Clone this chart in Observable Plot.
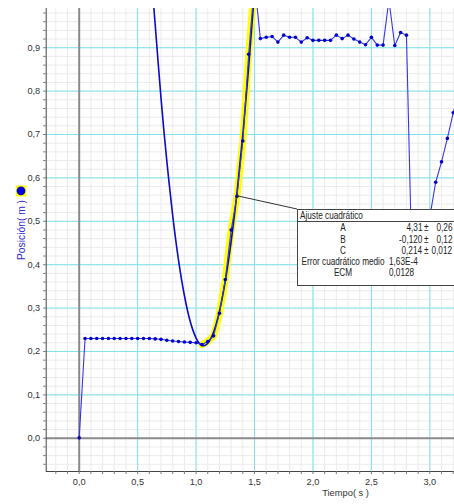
<!DOCTYPE html>
<html><head><meta charset="utf-8">
<script src="https://cdn.jsdelivr.net/npm/d3@7"></script>
<script src="https://cdn.jsdelivr.net/npm/@observablehq/plot@0.6"></script>
<style>
html,body{margin:0;padding:0;background:#fff;overflow:hidden;width:454px;height:504px}
#wrap{position:relative;width:454px;height:504px;overflow:hidden}
#wrap svg{display:block}
#box{position:absolute;left:297px;top:209px;width:164px;height:77px;border:1px solid #444;background:#fff;box-sizing:border-box;font-family:'Liberation Sans',Arial,sans-serif;font-size:10px;color:#222;line-height:11.3px}
#box .hd{position:relative;height:12.3px;border-bottom:1px solid #444;line-height:12.5px;box-sizing:border-box}
#box .hd span{position:absolute;left:2px;top:0;transform:scaleX(.82);transform-origin:left center;white-space:nowrap}
#box .row{position:relative;height:11.3px}
#box .row span{position:absolute;top:0;white-space:nowrap}
#box .lab{left:-20.5px;width:130px;text-align:center;transform:scaleX(.82);transform-origin:center}
#box .val{right:38px;text-align:right;transform:scaleX(.82);transform-origin:right center}
#box .pm{left:125.5px;transform:scaleX(.82);transform-origin:left center}
#box .err{right:8px;text-align:right;transform:scaleX(.82);transform-origin:right center}
#box .stat{left:90.5px;transform:scaleX(.82);transform-origin:left center}
</style></head><body><div id="wrap"></div>
<script>
// ---- data ----
const time = [0.00,0.05,0.10,0.15,0.20,0.25,0.30,0.35,0.40,0.45,0.50,0.55,0.60,0.65,0.70,0.75,0.80,0.85,0.90,0.95,
  1.00,1.05,1.10,1.15,1.20,1.25,1.30,1.35,1.40,1.45,1.50,1.55,1.60,1.65,1.70,1.75,1.80,1.85,1.90,1.95,
  2.00,2.05,2.10,2.15,2.20,2.25,2.30,2.35,2.40,2.45,2.50,2.55,2.60,2.65,2.70,2.75,2.80,2.85,2.90,2.95,
  3.00,3.05,3.10,3.15,3.20,3.25];
const position = [0.001,0.230,0.230,0.230,0.230,0.230,0.230,0.230,0.230,0.230,0.230,0.230,0.230,0.229,0.228,0.226,0.224,0.223,0.222,0.221,
  0.220,0.216,0.223,0.236,0.288,0.366,0.480,0.558,0.685,0.885,1.050,0.921,0.924,0.926,0.913,0.929,0.924,0.924,0.913,0.923,
  0.917,0.917,0.917,0.917,0.929,0.921,0.929,0.920,0.913,0.907,0.924,0.906,0.906,1.010,0.905,0.935,0.929,0.360,0.400,0.450,
  0.510,0.590,0.637,0.691,0.750,0.800];
// quadratic fit curve, as drawn
const fitTime = [0.62,0.64,0.70,0.75,0.80,0.85,0.90,0.95,1.00,1.05,1.10,1.15,1.20,1.25,1.30,1.35,1.40,1.45,1.49,1.51];
const fitPosition = [1.060,0.988,0.784,0.638,0.513,0.410,0.329,0.269,0.231,0.214,0.219,0.245,0.293,0.362,0.453,0.566,0.700,0.856,0.995,1.071];
const selection = [1.05, 1.50];
const calloutTime = 1.35;
const xTicks = [0.0,0.5,1.0,1.5,2.0,2.5,3.0];
const yTicks = [0.0,0.1,0.2,0.3,0.4,0.5,0.6,0.7,0.8,0.9];
const xDomain = [-0.2824, 3.211];
const yDomain = [-0.0766, 0.9904];
const xLabel = "Tiempo( s )";
const yLabel = "Posición( m )";
const boxTitle = "Ajuste cuadrático";
const fitNames = ["A","B","C"];
const fitValues = ["4,31","-0,120","0,214"];
const fitErrors = ["0,26","0,12","0,012"];
const statNames = ["Error cuadrático medio","ECM"];
const statValues = ["1,63E-4","0,0128"];

const xMinor = d3.range(-2, 33).map(i => i / 10);
const yMinor = d3.range(-3, 50).map(i => i / 50);
const fmt = d => d.toFixed(1).replace(".", ",");

const data = time.map((t, i) => ({t, p: position[i]}));
const fit = fitTime.map((t, i) => ({t, p: fitPosition[i]}));
const sel = data.filter(d => d.t >= selection[0] - 1e-9 && d.t <= selection[1] + 1e-9);
const blank = () => "";

const plot = Plot.plot({
  width: 454, height: 504,
  marginLeft: 45.7, marginRight: 0, marginTop: 8, marginBottom: 33,
  x: {domain: xDomain, label: null},
  y: {domain: yDomain, label: null},
  style: {fontFamily: "'Liberation Sans', Arial, sans-serif", fontSize: "9.2px", color: "#333", background: "#fff"},
  marks: [
    Plot.ruleX(xMinor, {stroke: "#ebebeb"}),
    Plot.ruleY(yMinor, {stroke: "#ebebeb"}),
    Plot.ruleX(xTicks.filter(d => d !== 0), {stroke: "#7fe3eb"}),
    Plot.ruleY(yTicks.filter(d => d !== 0), {stroke: "#7fe3eb"}),
    Plot.ruleX([0], {stroke: "#8a8a8a", strokeWidth: 2}),
    Plot.ruleY([0], {stroke: "#8a8a8a", strokeWidth: 2}),
    Plot.line(sel, {x: "t", y: "p", stroke: "#ffff00", strokeWidth: 7, strokeLinejoin: "round", clip: true}),
    Plot.line(fit, {x: "t", y: "p", curve: "natural", stroke: "#0a0ac8", strokeWidth: 1.6, clip: true}),
    Plot.line(data, {x: "t", y: "p", stroke: "#3535ee", strokeWidth: 1.1, clip: true}),
    Plot.dot(data, {x: "t", y: "p", r: 1.8, fill: "#0000cc", clip: true}),
    Plot.ruleX([xDomain[0]], {stroke: "#444"}),
    Plot.ruleY([yDomain[0]], {stroke: "#444"}),
    Plot.axisX({ticks: xMinor, tickSize: 3, tickFormat: blank, stroke: "#777", label: null}),
    Plot.axisY({ticks: yMinor, tickSize: 2.5, tickFormat: blank, stroke: "#777", label: null}),
    Plot.axisX({ticks: xTicks, tickSize: 0, tickPadding: 7, tickFormat: fmt, fill: "#333", label: null}),
    Plot.axisY({ticks: yTicks, tickSize: 0, tickPadding: 6, tickFormat: fmt, fill: "#333", label: null}),
    Plot.text([xLabel], {frameAnchor: "bottom", dx: 95.2, dy: 24.7, fill: "#333", fontSize: 9.3})
  ]
});

const wrap = document.getElementById("wrap");
wrap.appendChild(plot);

// y-axis title with its series marker
const svg = d3.select(plot);
svg.append("text")
  .attr("transform", "translate(21,230) rotate(-90)")
  .attr("text-anchor", "middle").attr("dy", "0.35em")
  .attr("fill", "#2b2bd9").attr("font-size", 10.3)
  .text(yLabel);
svg.append("rect").attr("x", 15.8).attr("y", 185.5).attr("width", 10.6).attr("height", 11).attr("fill", "#ffff00");
svg.append("circle").attr("cx", 21).attr("cy", 190.8).attr("r", 4.4).attr("fill", "#0000e0");

// callout box
const box = document.createElement("div");
box.id = "box";
let html = `<div class="hd"><span>${boxTitle}</span></div>`;
fitNames.forEach((n, i) => {
  html += `<div class="row"><span class="lab">${n}</span><span class="val">${fitValues[i]}</span><span class="pm">±</span><span class="err">${fitErrors[i]}</span></div>`;
});
statNames.forEach((n, i) => {
  html += `<div class="row"><span class="lab">${n}</span><span class="stat">${statValues[i]}</span></div>`;
});
box.innerHTML = html;
wrap.appendChild(box);

// connector from the data point to the box corner
const cx = plot.scale("x").apply(calloutTime);
const cy = plot.scale("y").apply(position[time.indexOf(calloutTime)]);
svg.append("line")
  .attr("x1", cx).attr("y1", cy)
  .attr("x2", box.offsetLeft).attr("y2", box.offsetTop)
  .attr("stroke", "#333").attr("stroke-width", 1);
</script></body></html>
